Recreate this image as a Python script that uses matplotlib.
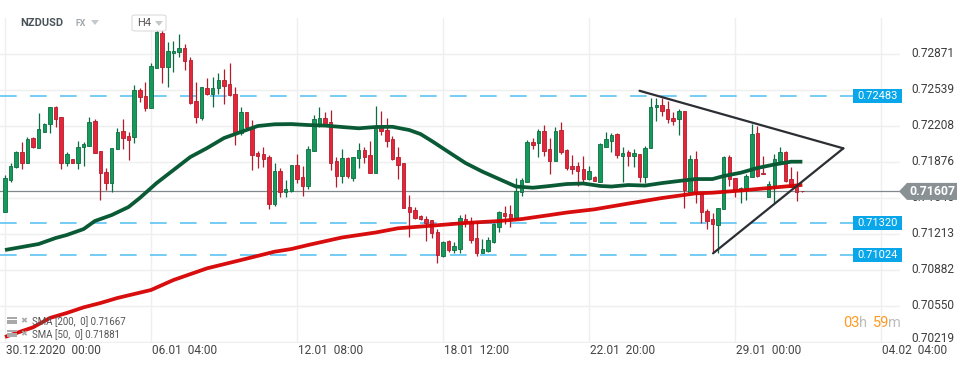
import matplotlib
matplotlib.use('Agg')
import matplotlib.pyplot as plt
from matplotlib.patches import Rectangle, Polygon, FancyBboxPatch
import matplotlib.transforms as mtransforms

plt.rcParams['font.family'] = ['Roboto', 'DejaVu Sans']

# ---------------- data (H4 candles, NZDUSD) ----------------
opens = [0.71420,0.71712,0.71829,0.71973,0.71872,0.72096,0.72010,0.72158,0.72226,0.72382,
         0.72290,0.71872,0.71903,0.71872,0.72013,0.72026,0.72256,0.71980,0.71783,0.71682,
         0.71995,0.72164,0.72118,0.72112,0.72542,0.72487,0.72373,0.72748,0.73064,0.72757,
         0.72880,0.72889,0.72926,0.72819,0.72441,0.72281,0.72564,0.72505,0.72557,0.72634,
         0.72597,0.72505,0.72143,0.72339,0.72204,0.71964,0.71952,0.71927,0.71488,0.71795,
         0.71605,0.71611,0.71851,0.71737,0.71660,0.71983,0.72210,0.72281,0.72244,0.71887,
         0.71752,0.71918,0.71734,0.71912,0.71989,0.71943,0.71780,0.72204,0.72173,0.72090,
         0.71921,0.71866,0.71460,0.71436,0.71383,0.71350,0.71344,0.71236,0.71012,0.71150,
         0.71067,0.71073,0.71350,0.71328,0.71175,0.71042,0.71061,0.71144,0.71282,0.71405,
         0.71396,0.71350,0.71605,0.71697,0.72059,0.72050,0.72164,0.71998,0.71890,0.72173,
         0.71989,0.71841,0.71841,0.71811,0.71718,0.71737,0.71697,0.72020,0.72075,0.72136,
         0.71937,0.71967,0.71937,0.71949,0.71743,0.72004,0.72382,0.72404,0.72364,0.72281,
         0.72272,0.72348,0.71605,0.71903,0.71589,0.71430,0.71350,0.71297,0.71442,0.71924,
         0.71728,0.71620,0.71626,0.71737,0.72143,0.71780,0.71553,0.71651,0.71887,0.71967,
         0.71718,0.71651,0.71614]
highs = [0.71758,0.71872,0.71980,0.72059,0.72112,0.72112,0.72333,0.72235,0.72382,0.72395,
         0.72290,0.71973,0.71910,0.72072,0.72066,0.72290,0.72275,0.71980,0.71820,0.72004,
         0.72189,0.72275,0.72158,0.72588,0.72557,0.72619,0.72788,0.73110,0.73095,0.72988,
         0.72997,0.73058,0.72966,0.72849,0.72619,0.72567,0.72656,0.72665,0.72696,0.72733,
         0.72794,0.72573,0.72388,0.72339,0.72265,0.71980,0.72020,0.71943,0.71866,0.71820,
         0.71712,0.71851,0.71952,0.71841,0.72026,0.72311,0.72382,0.72336,0.72358,0.71921,
         0.71995,0.71927,0.71927,0.72056,0.72020,0.72072,0.72395,0.72348,0.72287,0.72118,
         0.72020,0.71866,0.71574,0.71460,0.71390,0.71380,0.71344,0.71258,0.71153,0.71159,
         0.71144,0.71390,0.71399,0.71368,0.71328,0.71165,0.71184,0.71313,0.71426,0.71473,
         0.71482,0.71728,0.71728,0.72081,0.72103,0.72182,0.72219,0.72103,0.72198,0.72244,
         0.71995,0.71943,0.71878,0.71934,0.71841,0.71745,0.72050,0.72155,0.72143,0.72149,
         0.72020,0.71989,0.71995,0.71949,0.72026,0.72465,0.72465,0.72465,0.72444,0.72342,
         0.72364,0.72348,0.71943,0.71980,0.71605,0.71442,0.71405,0.71451,0.71937,0.71943,
         0.71728,0.71651,0.71768,0.72229,0.72210,0.71934,0.71706,0.71949,0.72013,0.71980,
         0.71829,0.71798,0.71614]
lows = [0.71420,0.71697,0.71820,0.71811,0.71872,0.72010,0.72010,0.72158,0.72143,0.72204,
        0.71811,0.71844,0.71865,0.71811,0.71844,0.72026,0.71958,0.71528,0.71620,0.71605,
        0.71995,0.71995,0.71897,0.72056,0.72434,0.72351,0.72373,0.72748,0.72603,0.72573,
        0.72705,0.72843,0.72726,0.72410,0.72241,0.72265,0.72496,0.72388,0.72505,0.72413,
        0.72487,0.72035,0.72127,0.72189,0.71804,0.71826,0.71835,0.71445,0.71473,0.71559,
        0.71559,0.71605,0.71682,0.71568,0.71626,0.71983,0.72204,0.72210,0.71804,0.71651,
        0.71688,0.71728,0.71706,0.71826,0.71872,0.71774,0.71780,0.72127,0.72020,0.71897,
        0.71722,0.71451,0.71184,0.71353,0.71344,0.71153,0.71175,0.70950,0.70999,0.71052,
        0.71036,0.71042,0.71276,0.71135,0.71012,0.71036,0.71052,0.71135,0.71236,0.71304,
        0.71276,0.71350,0.71565,0.71697,0.71998,0.71927,0.71934,0.71765,0.71890,0.71952,
        0.71804,0.71768,0.71660,0.71688,0.71712,0.71700,0.71697,0.72020,0.71973,0.71912,
        0.71697,0.71841,0.71835,0.71697,0.71682,0.72004,0.72259,0.72305,0.72241,0.72219,
        0.72127,0.71457,0.71605,0.71503,0.71313,0.71264,0.71036,0.71036,0.71442,0.71660,
        0.71559,0.71503,0.71528,0.71737,0.71737,0.71768,0.71553,0.71497,0.71887,0.71691,
        0.71645,0.71519,0.71600]
closes = [0.71728,0.71841,0.71973,0.71872,0.72090,0.72020,0.72179,0.72226,0.72382,0.72272,
          0.71872,0.71949,0.71872,0.72013,0.72044,0.72244,0.71964,0.71774,0.71682,0.72004,
          0.72152,0.72103,0.72081,0.72542,0.72481,0.72373,0.72763,0.73077,0.72757,0.72902,
          0.72902,0.72926,0.72809,0.72425,0.72296,0.72567,0.72505,0.72557,0.72634,0.72582,
          0.72496,0.72136,0.72339,0.72198,0.71943,0.71934,0.71909,0.71488,0.71795,0.71605,
          0.71629,0.71851,0.71718,0.71660,0.71998,0.72275,0.72281,0.72229,0.71872,0.71752,
          0.71912,0.71749,0.71921,0.71989,0.71927,0.71780,0.72210,0.72167,0.72075,0.71903,
          0.71851,0.71451,0.71420,0.71359,0.71350,0.71313,0.71227,0.71021,0.71144,0.71067,
          0.71104,0.71359,0.71313,0.71159,0.71042,0.71073,0.71159,0.71307,0.71414,0.71380,
          0.71350,0.71614,0.71712,0.72059,0.72035,0.72164,0.71983,0.71890,0.72164,0.71973,
          0.71826,0.71817,0.71798,0.71718,0.71798,0.71706,0.72041,0.72087,0.72127,0.71943,
          0.71958,0.71937,0.71958,0.71743,0.72010,0.72382,0.72404,0.72351,0.72272,0.72259,
          0.72348,0.71620,0.71903,0.71589,0.71420,0.71337,0.71304,0.71451,0.71927,0.71718,
          0.71620,0.71635,0.71749,0.72136,0.71749,0.71768,0.71675,0.71903,0.71967,0.71706,
          0.71651,0.71605,0.71607]

sma50_idx = [0,6,9,11,14,16,19,22,24,26,27,30,33,36,39,42,45,48,51,54,57,60,63,66,69,72,74,76,79,82,
             85,88,91,94,97,100,103,106,108,111,114,117,120,123,126,128,131,134,137,140,142]
sma50_val = [0.71067,0.71122,0.71177,0.71205,0.71260,0.71334,0.71389,0.71463,0.71546,0.71638,
             0.71684,0.71804,0.71924,0.72007,0.72099,0.72155,0.72210,0.72226,0.72228,0.72219,
             0.72214,0.72201,0.72189,0.72201,0.72203,0.72173,0.72136,0.72072,0.71970,0.71869,
             0.71790,0.71721,0.71652,0.71641,0.71657,0.71675,0.71680,0.71657,0.71652,0.71666,
             0.71661,0.71684,0.71703,0.71721,0.71721,0.71749,0.71779,0.71823,0.71855,0.71881,
             0.71881]
sma200_idx = [0,5,8,11,14,17,20,26,30,36,42,48,51,54,60,66,70,76,82,88,92,97,100,105,111,117,123,126,131,137,142]
sma200_val = [0.70265,0.70354,0.70440,0.70486,0.70538,0.70578,0.70624,0.70698,0.70790,0.70898,
              0.70974,0.71051,0.71076,0.71113,0.71182,0.71228,0.71267,0.71291,0.71316,0.71334,
              0.71352,0.71389,0.71412,0.71442,0.71495,0.71546,0.71589,0.71595,0.71615,0.71643,
              0.71667]

tri_upper_x = [113.0, 149.3]
tri_upper_y = [0.72535, 0.72004]
tri_lower_x = [126.1, 149.3]
tri_lower_y = [0.71036, 0.72004]

levels = [0.72483, 0.71320, 0.71024]
level_labels = ['0.72483', '0.71320', '0.71024']
last_price = 0.71607
yticks = [0.72871, 0.72539, 0.72208, 0.71876, 0.71545, 0.71213, 0.70882, 0.70550, 0.70219]
ytick_labels = ['0.72871', '0.72539', '0.72208', '0.71876', '0.71545', '0.71213', '0.70882', '0.70550', '0.70219']
xtick_idx = [0, 26, 52, 78, 104, 130, 156]
xtick_labels = ['30.12.2020  00:00', '06.01  04:00', '12.01  08:00', '18.01  12:00',
                '22.01  20:00', '29.01  00:00', '04.02  04:00']

# ---------------- figure ----------------
FW, FH = 970, 368
fig = plt.figure(figsize=(FW / 100, FH / 100), dpi=100)
fig.patch.set_facecolor('white')
ax_left, ax_right, ax_top, ax_bot = 0, 900, 18, 342.7
ax = fig.add_axes([ax_left / FW, 1 - ax_bot / FH, (ax_right - ax_left) / FW, (ax_bot - ax_top) / FH])
ax.set_xlim(-0.89, 159.39)
ax.set_ylim(0.70212, 0.73206)
ax.axis('off')

def fx(px):
    return px / FW

def fy(py):
    return 1 - py / FH

grid_c = '#efefef'
for t in yticks:
    ax.axhline(t, color=grid_c, lw=1.0, zorder=0)
for xi in xtick_idx:
    ax.axvline(xi, color=grid_c, lw=1.0, zorder=0)

# support / resistance levels
axdata = mtransforms.blended_transform_factory(ax.transAxes, ax.transData)
for lv in levels:
    ln, = ax.plot([0, 853 / 900], [lv, lv], transform=axdata, color='#5cc4f2', lw=1.2, zorder=1)
    ln.set_dashes((10, 8))

ax.axhline(last_price, color='#80888c', lw=0.9, zorder=1)

# candles
green_f, green_e = '#169a5c', '#0c6d40'
red_f, red_e = '#e3263a', '#b41c2b'
min_body = 0.00008
for i in range(len(opens)):
    o, h, l, c = opens[i], highs[i], lows[i], closes[i]
    up = c >= o
    fcol, ecol = (green_f, green_e) if up else (red_f, red_e)
    ax.vlines(i, l, h, color=ecol, lw=0.9, zorder=2)
    bot = min(o, c)
    hgt = max(abs(c - o), min_body)
    ax.bar(i, hgt, bottom=bot, width=0.62, color=fcol, edgecolor=ecol, linewidth=0.6, zorder=3)

# SMAs
ax.plot(sma200_idx, sma200_val, color='#d60000', lw=2.7, zorder=4, solid_capstyle='butt', alpha=0.95)
ax.plot(sma50_idx, sma50_val, color='#0b5a36', lw=2.7, zorder=5, solid_capstyle='butt')

# triangle
ax.plot(tri_upper_x, tri_upper_y, color='#2b2f33', lw=1.6, zorder=6, solid_capstyle='round')
ax.plot(tri_lower_x, tri_lower_y, color='#2b2f33', lw=1.6, zorder=6, solid_capstyle='round')

# right axis labels
bt = mtransforms.blended_transform_factory(fig.transFigure, ax.transData)
for t, lab in zip(yticks, ytick_labels):
    yoff = 0.00030 if t == yticks[-1] else 0.00008
    fig.text(fx(911), t + yoff, lab, transform=bt, fontsize=8.6, color='#3d3d3d',
             ha='left', va='center', zorder=5)

# level labels
pxh = 0.0000922
for lv, lab in zip(levels, level_labels):
    r = Rectangle((fx(853), lv - 7 * pxh), fx(49), 14 * pxh, transform=bt, facecolor='#0aa6ea',
                  edgecolor='none', zorder=10, clip_on=False)
    fig.add_artist(r)
    fig.text(fx(877.5), lv, lab, transform=bt, fontsize=8, color='white', ha='center', va='center', zorder=11)

# last price label
hh = 8.5 * pxh
poly = Polygon([(fx(899), last_price), (fx(907), last_price + hh), (fx(957), last_price + hh),
                (fx(957), last_price - hh), (fx(907), last_price - hh)], closed=True,
               transform=bt, facecolor='#899195', edgecolor='none', zorder=10)
fig.add_artist(poly)
fig.text(fx(932), last_price, '0.71607', transform=bt, fontsize=8.8, color='white', fontweight='bold',
         ha='center', va='center', zorder=11)

# x labels
for xi, lab in zip(xtick_idx, xtick_labels):
    xpx = 5 + xi * 5.615
    fig.text(fx(xpx + 1), fy(351), lab, fontsize=8.6, color='#444444', ha='left', va='center')

# header
fig.text(fx(20), fy(23), 'NZDUSD', fontsize=8, fontweight='bold', color='#4a5358', ha='left', va='center')
fig.text(fx(75), fy(24), 'FX', fontsize=6.3, fontweight='bold', color='#a0a8ad', ha='left', va='center')
fig.add_artist(Polygon([(fx(91), fy(20)), (fx(99), fy(20)), (fx(95), fy(25))], closed=True,
                       transform=fig.transFigure, facecolor='#c4c9cc', edgecolor='none'))
box = FancyBboxPatch((fx(132), fy(31)), fx(34), 16 / FH, boxstyle='round,pad=0,rounding_size=0.004',
                     transform=fig.transFigure, facecolor='white', edgecolor='#dcdcdc', lw=0.8, zorder=12)
fig.add_artist(box)
fig.text(fx(137), fy(23.5), 'H4', fontsize=8, color='#555555', ha='left', va='center', zorder=13)
fig.add_artist(Polygon([(fx(155), fy(21)), (fx(163), fy(21)), (fx(159), fy(26))], closed=True,
                       transform=fig.transFigure, facecolor='#c4c9cc', edgecolor='none', zorder=13))

# legend bottom-left
for yy, lab in [(322, 'SMA [200,  0] 0.71667'), (335, 'SMA [50,  0] 0.71881')]:
    for k in range(3):
        fig.add_artist(Rectangle((fx(7), fy(yy - 3 + k * 2.5)), fx(10), 1.6 / FH, transform=fig.transFigure,
                                 facecolor='#a9a9a9', edgecolor='none', zorder=12))
    fig.text(fx(20), fy(yy - 1), '\u2716', fontsize=6, color='#a9a9a9', ha='left', va='center',
             family=['DejaVu Sans'], zorder=12)
    fig.text(fx(32), fy(yy), lab, fontsize=6.9, color='#555555', ha='left', va='center', zorder=12)

# countdown
fig.text(fx(843), fy(323), '03', fontsize=10.5, color='#ff9a1f', ha='left', va='center')
fig.text(fx(859.5), fy(323), 'h', fontsize=10.5, color='#bdbdbd', ha='left', va='center')
fig.text(fx(872.5), fy(323), '59', fontsize=10.5, color='#ff9a1f', ha='left', va='center')
fig.text(fx(888.5), fy(323), 'm', fontsize=10.5, color='#bdbdbd', ha='left', va='center')

fig.savefig('out.png', dpi=100, facecolor='white')
